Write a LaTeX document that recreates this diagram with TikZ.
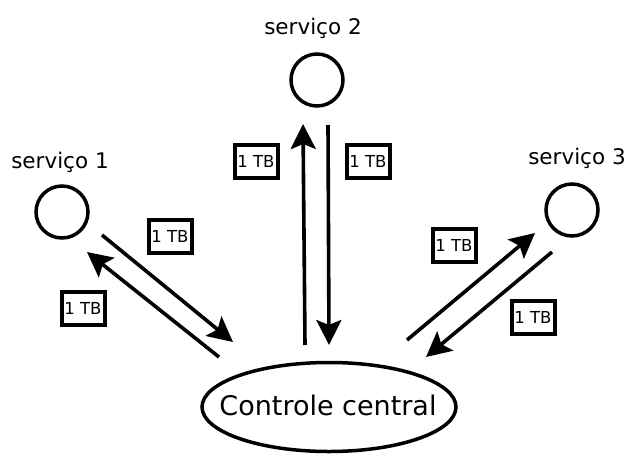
\documentclass[tikz,border=0pt]{standalone}
\usepackage{fontspec}
\setmainfont{DejaVu Sans}
\usetikzlibrary{arrows.meta}
\tikzset{
  svc/.style={circle,draw,line width=3.5pt,minimum size=52pt,inner sep=0pt},
  svclabel/.style={font=\fontsize{21.5}{25}\selectfont,inner sep=0pt},
  hubtext/.style={inner sep=0pt,font=\fontsize{27}{32}\selectfont},
  hubline/.style={line width=3.5pt},
  tb/.style={draw,line width=4pt,minimum width=43pt,minimum height=33pt,inner sep=0pt,
             font=\fontsize{16.5}{20}\selectfont},
  flow/.style={line width=3.6pt,-{Stealth[length=25pt,width=25pt,inset=5pt]}},
}
\begin{document}
\begin{tikzpicture}[x=1pt,y=-1pt]
  \useasboundingbox (0,0) rectangle (626,453);

  % services and the central controller
  \node[svc] (s1) at (62,212) {};
  \node[svc] (s2) at (317,80) {};
  \node[svc] (s3) at (572,210) {};
  \node[svclabel] (l1) at (60,162) {serviço 1};
  \node[svclabel] (l2) at (313,28) {serviço 2};
  \node[svclabel] (l3) at (577,158) {serviço 3};
  \node[hubtext] (cc) at (328,405) {Controle central};
  \draw[hubline] (329,407) ellipse [x radius=127, y radius=44.5];

  % transfer labels
  \node[tb] (b1) at (170,236) {1 TB};
  \node[tb] (b2) at (83,308) {1 TB};
  \node[tb] (b3) at (256,161) {1 TB};
  \node[tb] (b4) at (368,161) {1 TB};
  \node[tb] (b5) at (454,245) {1 TB};
  \node[tb] (b6) at (533,317) {1 TB};

  % arrow end points
  \coordinate (a1s) at (102,235);
  \coordinate (a1e) at (233,342);
  \coordinate (a2s) at (219,357);
  \coordinate (a2e) at (87,252);
  \coordinate (a3s) at (305,345);
  \coordinate (a3e) at (303,124);
  \coordinate (a4s) at (328,125);
  \coordinate (a4e) at (329,345);
  \coordinate (a5s) at (407,340);
  \coordinate (a5e) at (535,233);
  \coordinate (a6s) at (552,252);
  \coordinate (a6e) at (426,357);

  % data flows
  \draw[flow] (a1s) -- (a1e);
  \draw[flow] (a2s) -- (a2e);
  \draw[flow] (a3s) -- (a3e);
  \draw[flow] (a4s) -- (a4e);
  \draw[flow] (a5s) -- (a5e);
  \draw[flow] (a6s) -- (a6e);
\end{tikzpicture}
\end{document}
